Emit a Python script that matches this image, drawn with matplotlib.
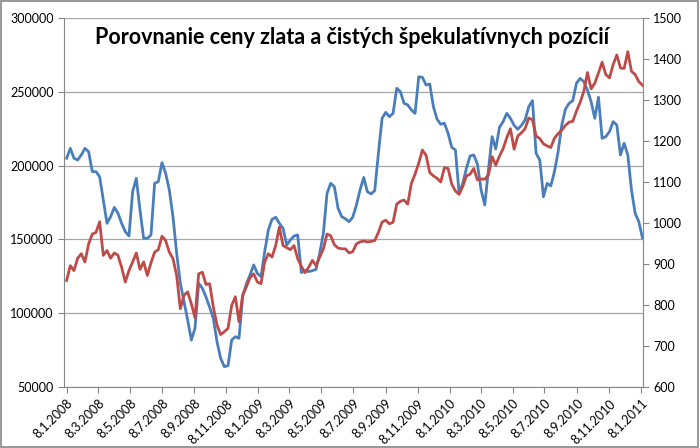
import matplotlib
matplotlib.use('Agg')
import matplotlib.pyplot as plt
import pandas as pd
from matplotlib.patches import Rectangle

# Weekly data, first week is 8.1.2008
first_week = '2008-01-08'

# net speculative positions (left axis)
net_positions = [
    205000, 211700, 205000, 203800, 207200, 211700, 209400, 195900, 195900, 192500,
    176700, 160900, 165400, 171700, 167700, 160900, 155200, 152300, 182300, 191400,
    169900, 150700, 150700, 153000, 188000, 189100, 202000, 194800, 183500, 165400,
    140600, 120300, 107800, 95400, 81800, 89800, 120300, 116900, 111000, 104000,
    96500, 80700, 69400, 63800, 64500, 81800, 84100, 83000, 111200, 119800,
    125900, 132700, 127000, 124700, 141700, 156400, 163600, 165000, 160900, 157500,
    146200, 149600, 152300, 153000, 127500, 128800, 128200, 128800, 129700, 140600,
    154100, 181200, 188000, 185700, 171100, 165400, 164000, 162000, 165000, 173200,
    183500, 192000, 182300, 180800, 183000, 208300, 232000, 236100, 233100, 235400,
    252400, 250100, 242200, 241100, 237700, 235400, 260200, 259800, 254600, 255300,
    239900, 231400, 228000, 228700, 221900, 212400, 210600, 181200, 188000, 198200,
    206500, 207200, 201100, 183500, 173300, 197000, 219600, 211300, 225900, 229800,
    235400, 232000, 227300, 224600, 227300, 230900, 239900, 244000, 208300, 203800,
    178900, 188000, 186200, 195900, 209400, 227500, 238300, 242200, 244000, 255800,
    259100, 256900, 251200, 243300, 232000, 246300, 218500, 219600, 223000, 229800,
    227500, 207200, 215100, 207200, 183500, 167700, 162000, 151000,
]

# gold price (right axis)
gold_price = [
    860, 896, 884, 914, 925, 905, 949, 973, 977, 1003,
    921, 933, 914, 927, 921, 892, 856, 884, 905, 927,
    887, 905, 872, 903, 929, 935, 968, 957, 929, 913,
    872, 791, 824, 832, 803, 769, 876, 880, 850, 852,
    795, 751, 728, 735, 743, 799, 820, 759, 825, 844,
    867, 876, 856, 852, 905, 925, 917, 945, 990, 945,
    940, 935, 945, 913, 894, 879, 892, 909, 896, 917,
    937, 973, 969, 947, 939, 937, 937, 927, 930, 949,
    954, 956, 954, 955, 957, 977, 1002, 1007, 998, 1002,
    1046, 1053, 1056, 1046, 1097, 1119, 1146, 1178, 1165, 1123,
    1115, 1109, 1100, 1135, 1133, 1095, 1078, 1070, 1089, 1115,
    1119, 1133, 1105, 1107, 1107, 1117, 1162, 1141, 1163, 1181,
    1208, 1230, 1180, 1212, 1220, 1230, 1256, 1252, 1212, 1206,
    1193, 1188, 1184, 1207, 1218, 1227, 1238, 1246, 1248, 1273,
    1294, 1321, 1367, 1327, 1341, 1366, 1392, 1362, 1354, 1386,
    1410, 1378, 1377, 1418, 1370, 1362, 1345, 1336,
]

left_ticks = [50000, 100000, 150000, 200000, 250000, 300000]
right_ticks = [600, 700, 800, 900, 1000, 1100, 1200, 1300, 1400, 1500]
title = 'Porovnanie ceny zlata a čistých špekulatívnych pozícií'

_blue = '#4A7EBB'
_red = '#BE4B48'
_grid = '#A6A6A6'
_axis = '#868686'


def _style_axis(ax):
    for side in ('top', 'left', 'right', 'bottom'):
        ax.spines[side].set_visible(False)
    ax.tick_params(colors=_axis, labelcolor='black', labelsize=9, length=4, width=0.8)


def main():
    plt.rcParams['font.family'] = ['Lato', 'DejaVu Sans']
    weeks = pd.date_range(first_week, periods=len(net_positions), freq='7D')

    fig = plt.figure(figsize=(7, 4.48), dpi=100)
    ax = fig.add_axes([64 / 700, 1 - 387 / 448, (643 - 64) / 700, (387 - 18) / 448])
    ax2 = ax.twinx()
    _style_axis(ax)
    _style_axis(ax2)

    ax.set_yticks(left_ticks)
    ax.set_ylim(left_ticks[0], left_ticks[-1])
    ax.yaxis.grid(True, color=_grid, linewidth=0.9)
    ax.set_axisbelow(True)
    ax.spines['left'].set_visible(True)
    ax.spines['left'].set_color(_axis)
    ax.spines['bottom'].set_visible(True)
    ax.spines['bottom'].set_color(_axis)
    ax2.spines['right'].set_visible(True)
    ax2.spines['right'].set_color(_axis)

    ax2.set_yticks(right_ticks)
    ax2.set_ylim(right_ticks[0], right_ticks[-1])

    ax.plot(weeks, net_positions, color=_blue, linewidth=2.0)
    ax2.plot(weeks, gold_price, color=_red, linewidth=2.0)

    # ticks every two months on the 8th, as in the original
    date_ticks = pd.date_range('2008-01-01', '2011-01-01', freq='2MS') + pd.Timedelta(days=7)
    ax.set_xticks(date_ticks)
    ax.set_xticklabels([f'{d.day}.{d.month}.{d.year}' for d in date_ticks],
                       rotation=45, ha='right', va='top', rotation_mode='anchor')
    ax.set_xlim(weeks[0] - pd.Timedelta(days=5), weeks[-1] + pd.Timedelta(days=1))

    fig.text(352 / 700, 1 - 37 / 448, title, ha='center', va='center',
             fontsize=15.5, fontweight='bold')

    fig.patches.append(Rectangle((0.002, 0.003), 0.995, 0.994, transform=fig.transFigure,
                                 fill=False, edgecolor=_axis, linewidth=1.2))
    fig.savefig('out.png', dpi=100)


if __name__ == '__main__':
    main()
